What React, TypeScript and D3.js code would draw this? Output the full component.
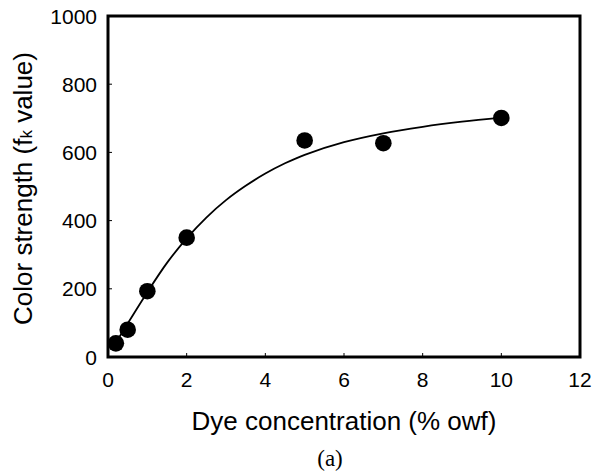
import React from "react";
import * as d3 from "d3";

const concentration = [0.2, 0.5, 1, 2, 5, 7, 10];
const colorStrength = [40, 80, 193, 350, 635, 627, 701];

const fitX = [0.2, 0.5, 1, 1.5, 2, 2.5, 3, 3.5, 4, 4.5, 5, 6, 7, 8, 9, 10];
const fitY = [42, 98, 190, 276, 348, 409, 460, 502, 538, 568, 593, 630, 656, 675, 690, 702];

const xTicks = [0, 2, 4, 6, 8, 10, 12];
const yTicks = [0, 200, 400, 600, 800, 1000];

const W = 602;
const H = 473;
const M = { left: 108, right: 580, top: 16, bottom: 357 };

export default function App() {
  const x = d3.scaleLinear().domain([0, 12]).range([M.left, M.right]);
  const y = d3.scaleLinear().domain([0, 1000]).range([M.bottom, M.top]);
  const line = d3
    .line<number>()
    .x((_, i) => x(fitX[i]))
    .y((d) => y(d))
    .curve(d3.curveCatmullRom.alpha(0.5));
  const font = "Arial, 'Liberation Sans', sans-serif";

  return (
    <div style={{ position: "absolute", left: 0, top: 0 }}>
      <svg width={W} height={H} style={{ display: "block", background: "#fff" }}>
        {yTicks.slice(1, -1).map((t) => (
          <line key={"yt" + t} x1={M.left} x2={M.left + 4} y1={y(t)} y2={y(t)} stroke="#000" strokeWidth={1} />
        ))}
        {xTicks.slice(1, -1).map((t) => (
          <line key={"xt" + t} x1={x(t)} x2={x(t)} y1={M.bottom} y2={M.bottom - 4} stroke="#000" strokeWidth={1} />
        ))}
        <path d={line(fitY) || ""} fill="none" stroke="#000" strokeWidth={1.8} />
        {concentration.map((c, i) => (
          <circle key={"p" + i} cx={x(c)} cy={y(colorStrength[i])} r={8.3} fill="#000" />
        ))}
        <rect
          x={M.left}
          y={M.top}
          width={M.right - M.left}
          height={M.bottom - M.top}
          fill="none"
          stroke="#000"
          strokeWidth={3}
        />
        {yTicks.map((t) => (
          <text key={"yl" + t} x={97} y={y(t)} dy="0.36em" textAnchor="end" fontFamily={font} fontSize={21} fill="#000">
            {t}
          </text>
        ))}
        {xTicks.map((t) => (
          <text key={"xl" + t} x={x(t)} y={387} textAnchor="middle" fontFamily={font} fontSize={21} fill="#000">
            {t}
          </text>
        ))}
        <text x={(M.left + M.right) / 2} y={430} textAnchor="middle" fontFamily={font} fontSize={26} fill="#000">
          Dye concentration (% owf)
        </text>
        <text
          transform={`translate(32,${(M.top + M.bottom) / 2 + 2}) rotate(-90)`}
          textAnchor="middle"
          fontFamily={font}
          fontSize={26}
          fill="#000"
        >
          Color strength (f
          <tspan fontSize={17}>k</tspan> value)
        </text>
        <text x={330} y={466} textAnchor="middle" fontFamily="'Liberation Serif', 'Times New Roman', serif" fontSize={23} fill="#000">
          (a)
        </text>
      </svg>
    </div>
  );
}
